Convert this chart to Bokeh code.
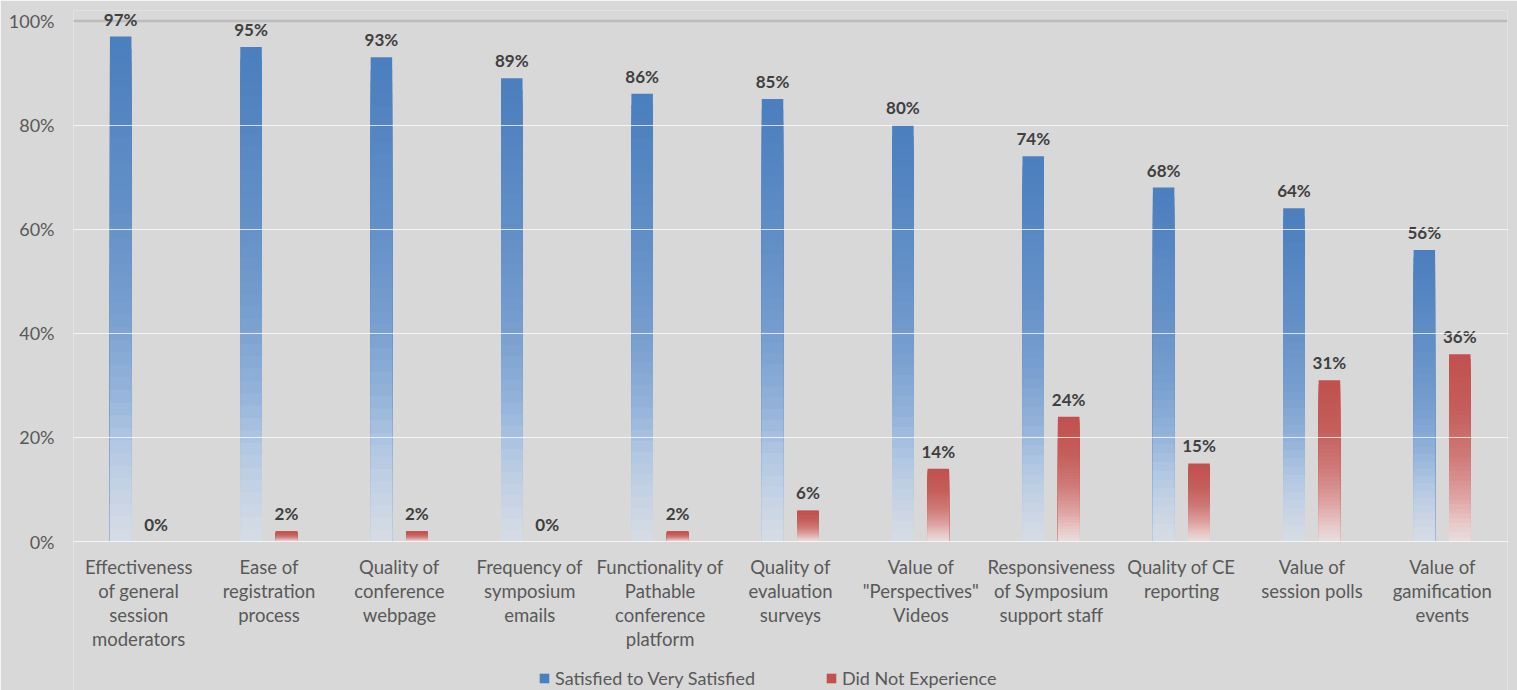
from bokeh.plotting import figure
from bokeh.models import (FactorRange, Range1d, FixedTicker, PrintfTickFormatter, Span,
                          Legend, LegendItem, ColumnDataSource)
from bokeh.transform import dodge
from bokeh.core.properties import value
from bokeh.embed import file_html
from bokeh.resources import INLINE

categories = [
    "Effectiveness\nof general\nsession\nmoderators",
    "Ease of\nregistration\nprocess",
    "Quality of\nconference\nwebpage",
    "Frequency of\nsymposium\nemails",
    "Functionality of\nPathable\nconference\nplatform",
    "Quality of\nevaluation\nsurveys",
    "Value of\n\"Perspectives\"\nVideos",
    "Responsiveness\nof Symposium\nsupport staff",
    "Quality of CE\nreporting",
    "Value of\nsession polls",
    "Value of\ngamification\nevents",
]
satisfied = [97, 95, 93, 89, 86, 85, 80, 74, 68, 64, 56]
not_experienced = [0, 2, 2, 0, 2, 6, 14, 24, 15, 31, 36]
series_names = ["Satisfied to Very Satisfied", "Did Not Experience"]
y_ticks = [0, 20, 40, 60, 80, 100]

FONT = "Lato"
BG = "#d8d8d8"

blue_stops = [(0.0, (214, 220, 228)), (0.1, (198, 211, 228)), (0.2, (176, 198, 226)),
              (0.3, (148, 179, 218)), (0.45, (120, 159, 207)), (0.65, (100, 144, 199)),
              (1.0, (74, 126, 190))]
red_stops = [(0.0, (232, 222, 222)), (0.1, (232, 200, 200)), (0.25, (222, 160, 160)),
             (0.45, (206, 122, 120)), (0.7, (197, 94, 91)), (1.0, (192, 80, 77))]


def interp(stops, f):
    for (f0, c0), (f1, c1) in zip(stops[:-1], stops[1:]):
        if f0 <= f <= f1:
            t = (f - f0) / (f1 - f0) if f1 > f0 else 0
            c = [round(a + (b - a) * t) for a, b in zip(c0, c1)]
            return "#%02x%02x%02x" % tuple(c)
    return "#%02x%02x%02x" % stops[-1][1]


p = figure(x_range=FactorRange(*categories, range_padding=0), y_range=Range1d(-28.6, 102),
           frame_width=1434, frame_height=680, output_backend="svg", toolbar_location=None,
           min_border_left=73, min_border_top=10, min_border_right=10, min_border_bottom=0)
p.background_fill_color = BG
p.border_fill_color = BG
p.outline_line_color = None

p.xgrid.grid_line_color = None
p.ygrid.ticker = FixedTicker(ticks=[0, 20, 40, 60, 80])
p.ygrid.grid_line_color = "white"
p.ygrid.grid_line_alpha = 0.75
p.ygrid.grid_line_width = 1
p.ygrid.level = "overlay"

top_line = Span(location=100, dimension="width", line_color="#bcbcbc", line_width=2.5,
                level="underlay")
p.add_layout(top_line)

N = 40
offsets = [-0.138, 0.134]
bar_w = 0.165
first_renderers = []
for vals, stops, off in [(satisfied, blue_stops, offsets[0]), (not_experienced, red_stops, offsets[1])]:
    first = None
    for i in range(N, 0, -1):
        f = i / N
        src = ColumnDataSource(dict(cat=categories, top=[v * f for v in vals]))
        r = p.vbar(x=dodge("cat", off, range=p.x_range), top="top", bottom=0, width=bar_w,
                   source=src, fill_color=interp(stops, f - 0.5 / N), line_color=None)
        if first is None:
            first = r
    first_renderers.append(first)

for vals, off in [(satisfied, offsets[0]), (not_experienced, offsets[1])]:
    src = ColumnDataSource(dict(cat=categories, v=vals, lab=[f"{v}%" for v in vals]))
    p.text(x=dodge("cat", off, range=p.x_range), y="v", text="lab", source=src,
           text_align="center", text_baseline="bottom", y_offset=-7,
           text_font=value(FONT), text_font_style="bold", text_font_size="17px",
           text_color="#404040")

# category labels under the zero line
cat_src = ColumnDataSource(dict(cat=categories, y=[0] * len(categories)))
p.text(x="cat", y="y", text="cat", source=cat_src, text_align="center", text_baseline="top",
       y_offset=14, text_font=value(FONT), text_font_size="18.5px", text_color="#595959",
       text_line_height=1.1)

p.xaxis.visible = False

p.yaxis.ticker = FixedTicker(ticks=y_ticks)
p.yaxis.formatter = PrintfTickFormatter(format="%d%%")
p.yaxis.axis_line_color = None
p.yaxis.major_tick_line_color = None
p.yaxis.minor_tick_line_color = None
p.yaxis.major_label_standoff = 13
p.yaxis.major_label_text_font = FONT
p.yaxis.major_label_text_font_size = "18px"
p.yaxis.major_label_text_color = "#595959"

legend = Legend(items=[LegendItem(label=series_names[0], renderers=[first_renderers[0]]),
                       LegendItem(label=series_names[1], renderers=[first_renderers[1]])],
                orientation="horizontal", location=(465, 1))
legend.background_fill_alpha = 0
legend.border_line_color = None
legend.label_text_font = FONT
legend.label_text_font_size = "18px"
legend.label_text_color = "#595959"
legend.glyph_width = 12
legend.glyph_height = 12
legend.spacing = 70
legend.padding = 0
legend.margin = 0
legend.label_standoff = 5
p.add_layout(legend)

open("out.html", "w").write(file_html(p, INLINE))
